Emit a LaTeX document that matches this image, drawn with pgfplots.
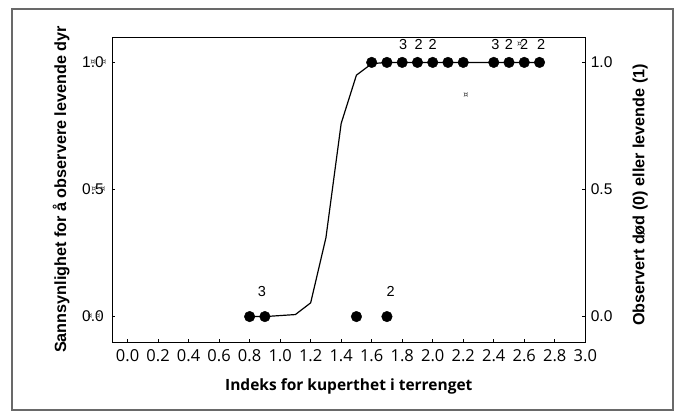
\documentclass[border=0pt]{standalone}
\usepackage{fontspec}
\setmainfont{Liberation Sans}
\newfontfamily\xfont{Open Sans}
\newfontfamily\symfont{DejaVu Sans}
\usepackage{pgfplots}
\pgfplotsset{compat=1.18}
\definecolor{framegray}{RGB}{105,105,105}
\begin{document}
\begin{tikzpicture}
\path[fill=white] (0pt,0pt) rectangle (679pt,419pt);
\draw[line width=2pt, framegray] (11.7pt,8.5pt) rectangle (673.3pt,410.3pt);

\begin{axis}[
    at={(112.3pt,77pt)}, anchor=south west,
    scale only axis, width=473pt, height=305pt,
    xmin=-0.1, xmax=3.0, ymin=-0.1, ymax=1.1,
    clip=false,
    xtick={0,0.2,0.4,0.6,0.8,1.0,1.2,1.4,1.6,1.8,2.0,2.2,2.4,2.6,2.8,3.0},
    ytick={0,0.5,1},
    xtick pos=bottom, ytick pos=left,
    tick align=inside, major tick length=3pt,
    tick style={black, line width=0.6pt},
    axis line style={line width=0.8pt},
    /pgf/number format/assume math mode=true,
    xticklabel={\pgfmathprintnumber[fixed,fixed zerofill,precision=1]{\tick}},
    yticklabel={\pgfmathprintnumber[fixed,fixed zerofill,precision=1]{\tick}},
    xticklabel style={font=\xfont\fontsize{16.5}{19}\selectfont, yshift=-4pt},
    yticklabel style={font=\fontsize{15.5}{18}\selectfont, xshift=-5pt},
    xlabel={Indeks for kuperthet i terrenget},
    xlabel style={at={(axis description cs:0.5,-0.145)}, anchor=center,
        font=\xfont\bfseries\fontsize{15.5}{18}\selectfont},
    ylabel={Sannsynlighet for å observere levende dyr},
    ylabel style={at={(axis description cs:-0.108,0.5)}, anchor=center,
        font=\bfseries\fontsize{16.2}{19}\selectfont},
]
% fitted curve
\addplot[black, line width=1.2pt, mark=none] coordinates {
(0.8,0) (0.9,0) (1.1,0.008) (1.2,0.054) (1.3,0.31) (1.4,0.76) (1.5,0.95)
(1.6,0.995) (1.7,1) (1.8,1) (1.9,1) (2.0,1) (2.1,1) (2.2,1) (2.3,1)
(2.4,1) (2.5,1) (2.6,1) (2.7,1)};
% observations
\addplot[only marks, mark=*, mark size=5.3pt, black] coordinates {
(0.8,0) (0.9,0) (1.5,0) (1.7,0)
(1.6,1) (1.7,1) (1.8,1) (1.9,1) (2.0,1) (2.1,1) (2.2,1)
(2.4,1) (2.5,1) (2.6,1) (2.7,1)};
% counts
\addplot[only marks, mark=none, nodes near coords, point meta=explicit symbolic,
    every node near coord/.append style={anchor=center, font=\fontsize{14.5}{16}\selectfont}]
    table[meta=l] {
x y l
0.88 0.10 3
1.725 0.10 2
1.806 1.07 3
1.907 1.07 2
2.0 1.07 2
2.41 1.07 3
2.50 1.07 2
2.60 1.07 2
2.71 1.07 2
};
% stray symbols
\addplot[only marks, mark=none, nodes near coords={\symfont\fontsize{8}{8}\selectfont ¤},
    every node near coord/.append style={anchor=center, inner sep=0pt, text=black!80}]
    coordinates {
(2.217,0.87) (2.57,1.07)
(-0.227,1.0) (-0.155,1.0) (-0.221,0.5) (-0.162,0.5) (-0.247,0.0) (-0.195,0.0)};
\end{axis}

\begin{axis}[
    at={(112.3pt,77pt)}, anchor=south west,
    scale only axis, width=473pt, height=305pt,
    xmin=-0.1, xmax=3.0, ymin=-0.1, ymax=1.1,
    axis x line=none, axis y line*=right,
    ytick={0,0.5,1},
    tick align=inside, major tick length=3pt,
    tick style={black, line width=0.6pt},
    axis line style={line width=0.8pt},
    /pgf/number format/assume math mode=true,
    yticklabel={\pgfmathprintnumber[fixed,fixed zerofill,precision=1]{\tick}},
    yticklabel style={font=\fontsize{15.5}{18}\selectfont, xshift=2pt},
    ylabel={Observert død (0) eller levende (1)},
    ylabel style={at={(axis description cs:1.116,0.482)}, anchor=center, rotate=0,
        font=\bfseries\fontsize{16.2}{19}\selectfont},
]
\end{axis}
\end{tikzpicture}
\end{document}
